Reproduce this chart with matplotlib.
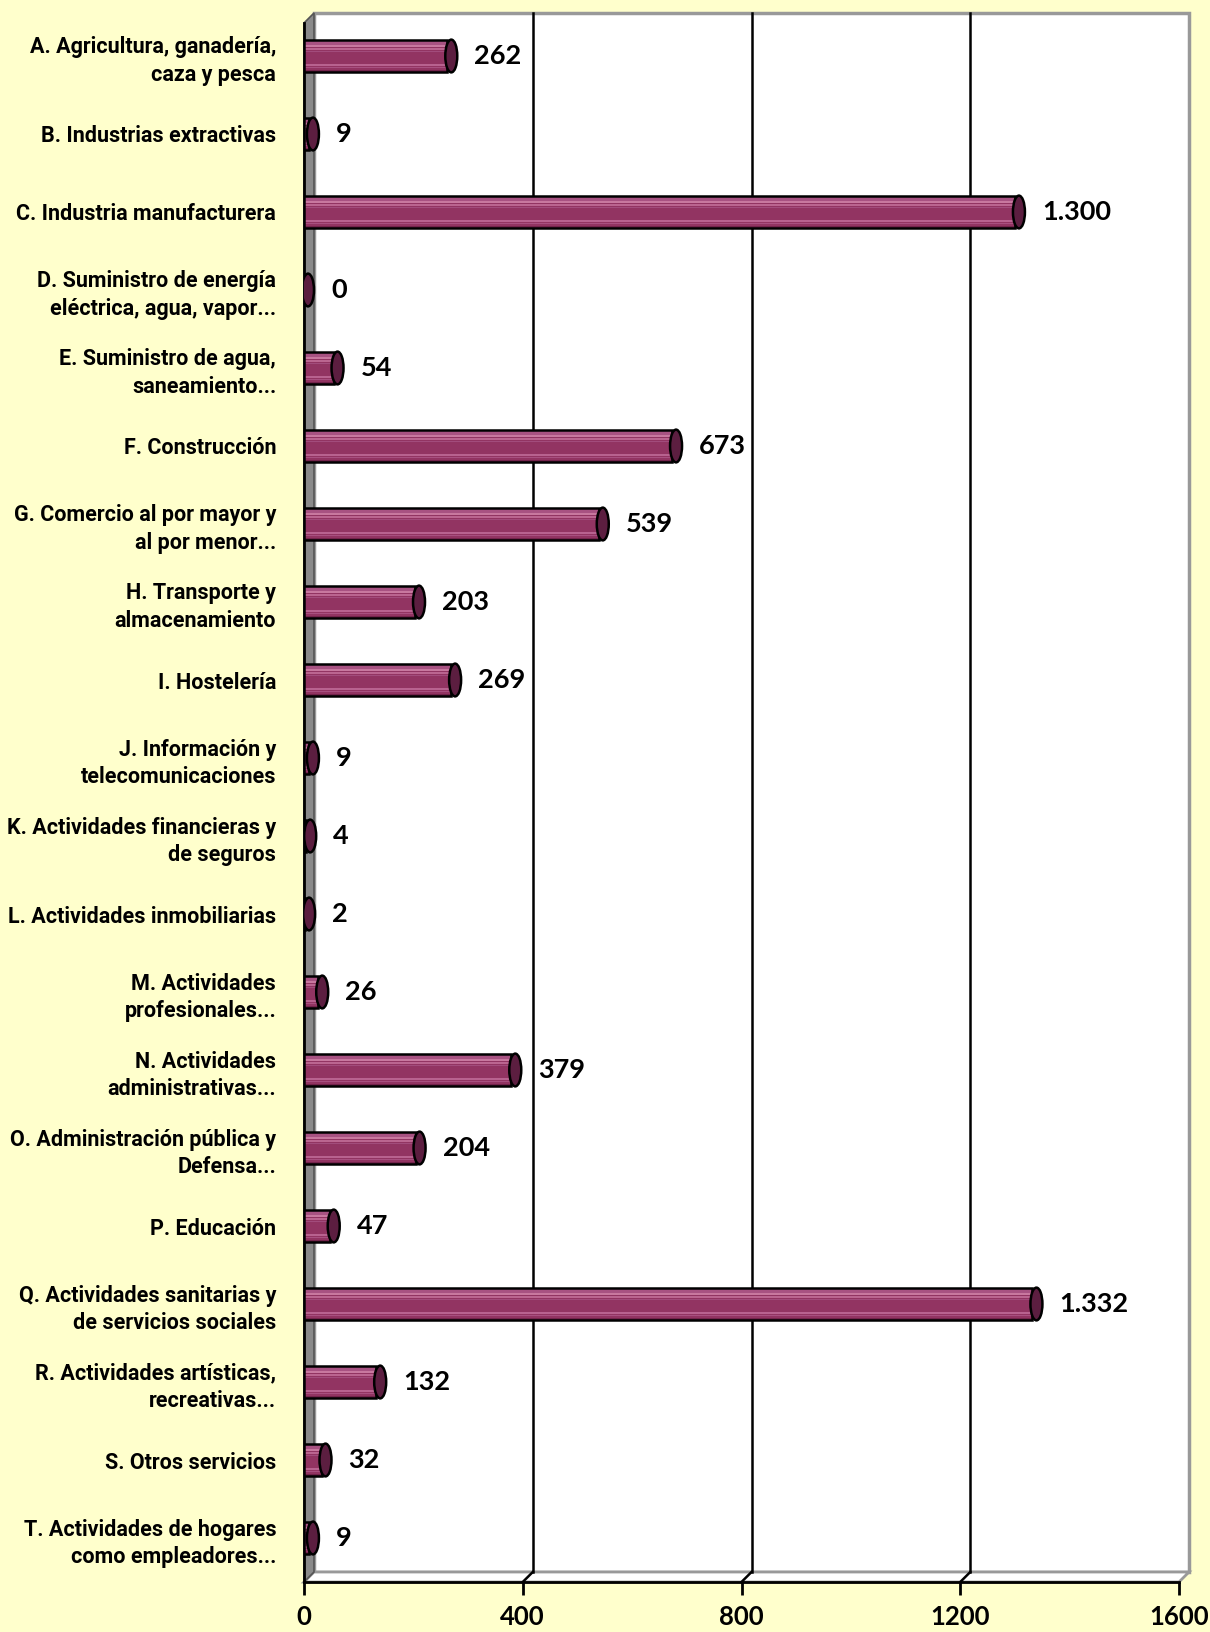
import matplotlib
matplotlib.use("Agg")
import matplotlib.pyplot as plt
from matplotlib.patches import Polygon, Ellipse, Rectangle
from matplotlib.lines import Line2D

categories = [
    "A. Agricultura, ganadería,\ncaza y pesca",
    "B. Industrias extractivas",
    "C. Industria manufacturera",
    "D. Suministro de energía\neléctrica, agua, vapor...",
    "E. Suministro de agua,\nsaneamiento...",
    "F. Construcción",
    "G. Comercio al por mayor y\nal por menor...",
    "H. Transporte y\nalmacenamiento",
    "I. Hostelería",
    "J. Información y\ntelecomunicaciones",
    "K. Actividades financieras y\nde seguros",
    "L. Actividades inmobiliarias",
    "M. Actividades\nprofesionales...",
    "N. Actividades\nadministrativas...",
    "O. Administración pública y\nDefensa...",
    "P. Educación",
    "Q. Actividades sanitarias y\nde servicios sociales",
    "R. Actividades artísticas,\nrecreativas...",
    "S. Otros servicios",
    "T. Actividades de hogares\ncomo empleadores...",
]
values = [262, 9, 1300, 0, 54, 673, 539, 203, 269, 9, 4, 2, 26, 379, 204, 47, 1332, 132, 32, 9]
xticks = [0, 400, 800, 1200, 1600]
xlim = (0, 1600)

BG = "#FFFFCC"
BAR = "#923462"
BAR_END = "#5C1E40"
LABEL_FONT = ["Roboto", "DejaVu Sans"]
NUM_FONT = ["Lato", "DejaVu Sans"]

W, H, DPI = 1210, 1632, 100
fig = plt.figure(figsize=(W / DPI, H / DPI), dpi=DPI, facecolor=BG)

# front plane in pixels
L, R, T, B = 304, 1179, 23, 1582
ax = fig.add_axes([L / W, 1 - B / H, (R - L) / W, (B - T) / H])
ax.set_facecolor("none")
for s in ax.spines.values():
    s.set_visible(False)

n = len(categories)
idx = list(range(n))
ax.set_xlim(*xlim)
spacing_px = 78.0
span = (B - T) / spacing_px
y0 = -(56 - T) / spacing_px
ax.set_ylim(y0 + span, y0)

dx = 10 / (R - L)
dy = 10 / (B - T)

# back plane
ax.add_patch(Rectangle((dx, dy), 1, 1, transform=ax.transAxes, facecolor="white",
                       edgecolor="#999999", lw=2.5, zorder=0, clip_on=False))
# floor
ax.add_patch(Polygon([(0, 0), (1, 0), (1 + dx, dy), (dx, dy)], closed=True, transform=ax.transAxes,
                     facecolor="white", edgecolor="#999999", lw=2, zorder=0.5, clip_on=False))
# left wall
ax.add_patch(Polygon([(0, 0), (dx, dy), (dx, 1 + dy), (0, 1)], closed=True, transform=ax.transAxes,
                     facecolor="#8A8A8A", edgecolor="#555555", lw=1.2, zorder=0.6, clip_on=False))
# front axis lines
ax.add_line(Line2D([0, 1], [0, 0], transform=ax.transAxes, color="black", lw=2, zorder=1, clip_on=False))
ax.add_line(Line2D([0, 0], [0, 1], transform=ax.transAxes, color="black", lw=2, zorder=1, clip_on=False))

# grid lines on back plane and floor
for v in xticks[1:-1]:
    xa = (v - xlim[0]) / (xlim[1] - xlim[0])
    ax.add_line(Line2D([xa + dx, xa + dx], [dy, 1 + dy], transform=ax.transAxes, color="black",
                       lw=1.8, zorder=0.8, clip_on=False))
    ax.add_line(Line2D([xa, xa + dx], [0, dy], transform=ax.transAxes, color="black",
                       lw=1.8, zorder=0.8, clip_on=False))

# cylinder bars
h = 0.42
ax.barh(idx, values, height=h, left=0, color=BAR, edgecolor="none", zorder=3)
stripes = [(-0.40, 0.14, "#A85282"), (-0.30, 0.05, "#C8789F"), (-0.22, 0.05, "#BB6590"),
           (-0.14, 0.04, "#A24C7C"), (0.27, 0.05, "#B8628F"), (0.36, 0.04, "#A85080"),
           (0.45, 0.06, "#74244C")]
for off, sh, c in stripes:
    ax.barh([i + off * h for i in idx], values, height=sh * h, left=0, color=c,
            edgecolor="none", zorder=3.1)
ax.barh(idx, values, height=h, left=0, color="none", edgecolor="black", lw=1.8, zorder=3.2)
ew = 12 * (xlim[1] - xlim[0]) / (R - L)
shift = 4 * (xlim[1] - xlim[0]) / (R - L)
for i, v in zip(idx, values):
    ax.add_patch(Ellipse((v + shift, i), ew, h, facecolor=BAR_END, edgecolor="black", lw=1.8, zorder=3.5))

# value labels
lab_off = 27 * (xlim[1] - xlim[0]) / (R - L)
for i, v in zip(idx, values):
    txt = f"{v:,}".replace(",", ".")
    ax.text(v + lab_off, i, txt, ha="left", va="center", fontsize=19.5, family=NUM_FONT,
            fontweight="bold", color="black", zorder=5)

# ticks
ax.set_xticks(xticks)
ax.set_xticklabels([str(t) for t in xticks], family=NUM_FONT, fontsize=18.5, fontweight="bold")
ax.tick_params(axis="x", length=9.5, width=2, direction="out", pad=7, color="black")
ax.set_yticks(idx)
ax.set_yticklabels(categories, family=LABEL_FONT, fontsize=15.5, fontweight="bold", linespacing=1.3)
ax.tick_params(axis="y", length=0, pad=20)
for t in ax.get_yticklabels():
    t.set_horizontalalignment("right")

fig.savefig("out.png", dpi=DPI, facecolor=BG)
